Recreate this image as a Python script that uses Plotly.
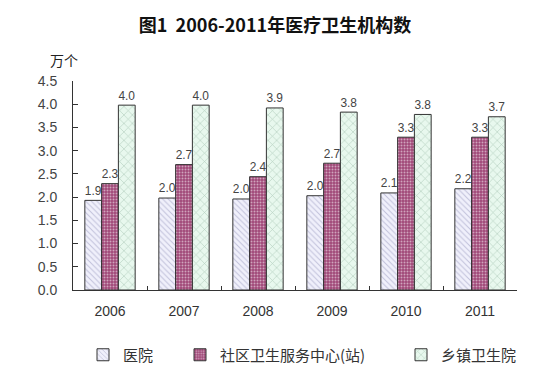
import plotly.graph_objects as go

years = ["2006", "2007", "2008", "2009", "2010", "2011"]
hospital = [1.93, 1.98, 1.96, 2.03, 2.09, 2.18]
community = [2.29, 2.70, 2.44, 2.73, 3.29, 3.29]
township = [3.98, 3.98, 3.92, 3.83, 3.78, 3.73]
names = ["医院", "社区卫生服务中心(站)", "乡镇卫生院"]
yticks = [0, 0.5, 1.0, 1.5, 2.0, 2.5, 3.0, 3.5, 4.0, 4.5]

W, H = 542, 378  # page body has an 8px margin

styles = [
    dict(bg="#f0f0fb", fg="#9090b8", shape="\\", size=4, sol=0.25),
    dict(bg="#a04878", fg="#ffffff", shape=".", size=3, sol=0.35),
    dict(bg="#e8f8ee", fg="#80a890", shape="x", size=6, sol=0.2),
]
legend_ids = ["legend", "legend2", "legend3"]
legend_x = [75, 172, 393]

fig = go.Figure()
for name, vals, st, lid in zip(names, [hospital, community, township], styles, legend_ids):
    fig.add_trace(go.Bar(
        x=years, y=vals, name=name, legend=lid,
        text=[f"{v:.1f}" for v in vals], textposition="outside",
        textfont=dict(family="Arial, Liberation Sans", size=14, color="#444"),
        cliponaxis=False,
        marker=dict(color=st["bg"], line=dict(color="#333333", width=1),
                    pattern=dict(shape=st["shape"], fgcolor=st["fg"], bgcolor=st["bg"],
                                 size=st["size"], solidity=st["sol"], fillmode="overlay")),
    ))

legend_common = dict(orientation="h", xref="container", yref="container",
                     y=1 - 347 / H, yanchor="middle", xanchor="left",
                     font=dict(size=15, color="#333", family="Noto Sans CJK SC"),
                     itemwidth=30, bgcolor="rgba(0,0,0,0)")

fig.update_layout(
    width=W, height=H,
    margin=dict(l=65, r=33, t=73, b=96),
    paper_bgcolor="white", plot_bgcolor="white",
    barmode="group", bargap=0.32, bargroupgap=0,
    title=dict(text="<b>图1  2006-2011年医疗卫生机构数</b>", x=(275 - 8) / W, xanchor="center",
               y=1 - 18 / H, yanchor="middle",
               font=dict(family="Noto Sans CJK SC", size=18, color="#111")),
    font=dict(family="Noto Sans CJK SC", color="#333"),
    showlegend=True,
    legend=dict(x=legend_x[0] / W, **legend_common),
    legend2=dict(x=legend_x[1] / W, **legend_common),
    legend3=dict(x=legend_x[2] / W, **legend_common),
    xaxis=dict(showline=True, linecolor="#333", linewidth=1, ticks="inside",
               tickson="boundaries", tickcolor="#333", ticklen=4, showgrid=False,
               automargin=False, ticklabelstandoff=8,
               tickfont=dict(family="Arial, Liberation Sans", size=14, color="#333")),
    yaxis=dict(range=[0, 4.5], tickvals=yticks, ticktext=[f"{v:.1f}" for v in yticks],
               showline=True, linecolor="#333", linewidth=1, ticks="inside", ticklen=5,
               tickcolor="#333", showgrid=False, zeroline=False, automargin=False,
               ticklabelstandoff=12,
               tickfont=dict(family="Arial, Liberation Sans", size=14, color="#444")),
    annotations=[dict(text="万个", xref="paper", yref="paper", x=-0.02, y=(282 - 52) / 209,
                      xanchor="center", yanchor="middle", showarrow=False,
                      font=dict(family="Noto Sans CJK SC", size=14, color="#222"))],
)

fig.write_html("out.html")
